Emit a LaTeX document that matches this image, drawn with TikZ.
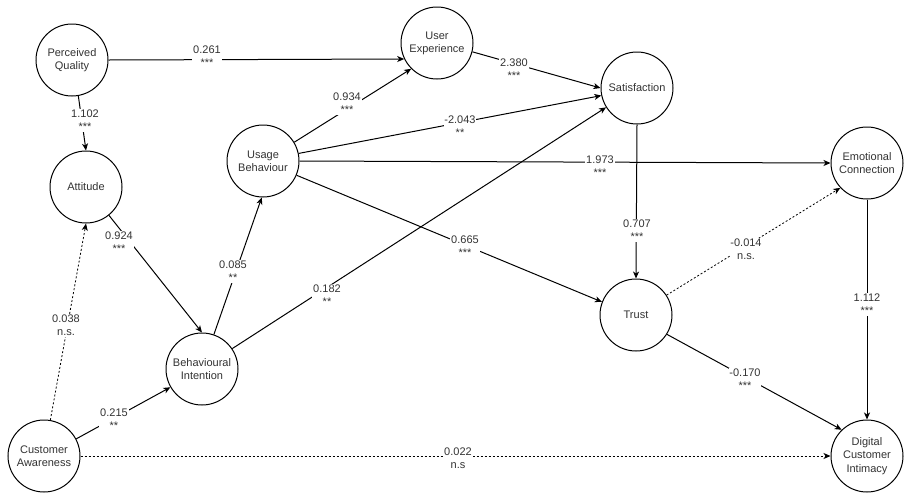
\documentclass[tikz,border=0pt]{standalone}
\usepackage{fontspec}
\setmainfont{Liberation Sans}
\usetikzlibrary{arrows.meta}
\definecolor{txt}{HTML}{333333}
\tikzset{
  cnode/.style={circle, draw=black, line width=1pt, minimum size=72pt, inner sep=0pt, align=center, text=txt, font=\fontsize{11}{13.2}\selectfont},
  arr/.style={draw=black, line width=1pt, -{Stealth[length=7pt,width=6pt,inset=2pt]}},
  dsh/.style={arr, line width=0.8pt, dash pattern=on 2pt off 2pt},
  lbl/.style={fill=white, inner sep=0.8pt, align=center, text=txt, font=\fontsize{11}{13.2}\selectfont}
}
\begin{document}
\begin{tikzpicture}[x=1pt,y=-1pt]
\useasboundingbox (0,0) rectangle (910,499);
\fill[white] (0,0) rectangle (910,499);
% nodes
\node[cnode] (PQ) at (72,60) {Perceived\\Quality};
\node[cnode] (UE) at (437,43) {User\\Experience};
\node[cnode] (Sat) at (637,88) {Satisfaction};
\node[cnode] (Att) at (86,187) {Attitude};
\node[cnode] (UB) at (263,161) {Usage\\Behaviour};
\node[cnode] (EC) at (867,163) {Emotional\\Connection};
\node[cnode] (BI) at (202,369) {Behavioural\\Intention};
\node[cnode] (Tr) at (636,315) {Trust};
\node[cnode] (CA) at (44,456) {Customer\\Awareness};
\node[cnode] (DCI) at (867,456) {Digital\\Customer\\Intimacy};
% connectors
\draw[arr] (PQ.east) -- (UE.206) node[lbl, at={(207,56.5)}] (l1) {0.261\\***};
\draw[arr] (PQ.-80) -- (Att.north) node[lbl, at={(85,120.5)}] (l2) {1.102\\***};
\draw[arr] (Att.-51) -- (BI.north) node[lbl, at={(119,242.5)}] (l3) {0.924\\***};
\draw[arr] (BI.71) -- (UB.268) node[lbl, at={(233,271.5)}] (l4) {0.085\\**};
\draw[arr] (BI.34) -- (Sat.212) node[lbl, at={(327,295.5)}] (l5) {0.182\\**};
\draw[arr] (CA.28) -- (BI.210) node[lbl, at={(114,419.5)}] (l6) {0.215\\**};
\draw[dsh] (CA.80) -- (Att.south) node[lbl, at={(66,325.5)}] (l7) {0.038\\n.s.};
\draw[dsh] (CA.east) -- (DCI.west) node[lbl, at={(458,458.5)}] (l8) {0.022\\n.s};
\draw[arr] (UB.31) -- (UE.225) node[lbl, at={(347,103.5)}] (l9) {0.934\\***};
\draw[arr] (UB.12) -- (Sat.192) node[lbl, at={(460,126.5)}] (l10) {-2.043\\**};
\draw[arr] (UB.east) -- (EC.west) node[lbl, at={(600,166.5)}] (l11) {1.973\\***};
\draw[arr] (UB.-23) -- (Tr.159) node[lbl, at={(465,246.5)}] (l12) {0.665\\***};
\draw[arr] (UE.-14) -- (Sat.west) node[lbl, at={(514,69.5)}] (l13) {2.380\\***};
\draw[arr] (Sat.south) -- (Tr.north) node[lbl, at={(637,230.5)}] (l14) {0.707\\***};
\draw[dsh] (Tr.33) -- (EC.223) node[lbl, at={(746,249.5)}] (l15) {-0.014\\n.s.};
\draw[arr] (Tr.-32) -- (DCI.134) node[lbl, at={(745,379.5)}] (l16) {-0.170\\***};
\draw[arr] (EC.south) -- (DCI.north) node[lbl, at={(867,304.5)}] (l17) {1.112\\***};
\end{tikzpicture}
\end{document}
